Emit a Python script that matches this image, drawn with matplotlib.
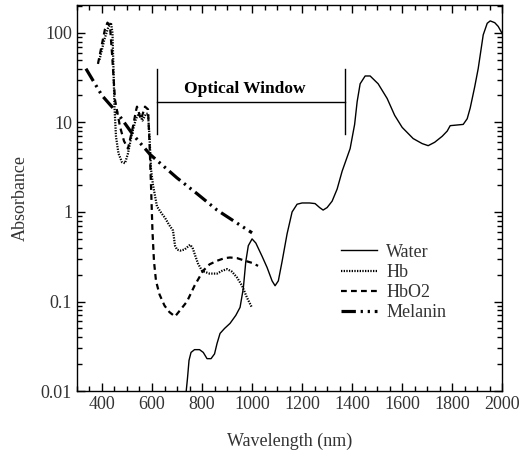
import numpy as np
import matplotlib
matplotlib.use('Agg')
import matplotlib.pyplot as plt

plt.rcParams['font.family'] = ['Liberation Serif', 'DejaVu Serif']

# Water absorbance
water_nm = [736, 742, 748, 756, 770, 790, 805, 820, 836, 850, 860, 872, 890, 912, 935, 952,
            965, 975, 985, 1000, 1015, 1040, 1060, 1080, 1092, 1105, 1120, 1140, 1160, 1180,
            1200, 1230, 1252, 1270, 1284, 1300, 1320, 1340, 1360, 1392, 1410, 1420, 1432, 1452,
            1472, 1504, 1540, 1570, 1600, 1644, 1680, 1704, 1730, 1760, 1780, 1792, 1810, 1844,
            1860, 1872, 1890, 1904, 1924, 1940, 1952, 1970, 1984, 2000]
water_abs = [0.0095, 0.014, 0.022, 0.027, 0.029, 0.029, 0.027, 0.023, 0.023, 0.026, 0.034,
             0.044, 0.05, 0.057, 0.07, 0.086, 0.14, 0.28, 0.42, 0.5, 0.45, 0.32, 0.24, 0.17,
             0.15, 0.17, 0.28, 0.57, 1.0, 1.22, 1.26, 1.26, 1.24, 1.12, 1.05, 1.12, 1.32, 1.8,
             2.85, 5.1, 9.5, 17, 27, 33, 33, 27, 18.5, 12, 8.8, 6.6, 5.8, 5.5, 6.0, 7.0, 8.0,
             9.2, 9.3, 9.5, 11, 14.5, 25, 40, 95, 128, 136, 130, 118, 98]

# Hb (deoxy)
hb_nm = [390, 410, 425, 436, 442, 446, 450, 456, 466, 480, 492, 504, 520, 536, 548, 562,
         576, 584, 590, 596, 604, 620, 640, 652, 668, 684, 692, 700, 712, 730, 752, 762,
         772, 784, 800, 830, 860, 880, 900, 920, 940, 960, 980, 1000]
hb_abs = [50, 85, 115, 130, 100, 40, 15, 7, 4.5, 3.6, 3.5, 4.5, 7.5, 11, 12.6, 10.5,
          12.5, 12.5, 7, 3, 2.0, 1.15, 0.95, 0.86, 0.72, 0.62, 0.42, 0.38, 0.37, 0.38, 0.43,
          0.4, 0.33, 0.265, 0.22, 0.205, 0.205, 0.22, 0.23, 0.215, 0.185, 0.15, 0.11, 0.085]

# HbO2 (oxy)
hbo2_nm = [384, 400, 412, 422, 432, 440, 452, 472, 488, 504, 524, 536, 540, 556, 572, 584,
           590, 596, 602, 608, 616, 630, 650, 670, 692, 720, 740, 770, 804, 830, 860, 890,
           912, 940, 972, 1000, 1024]
hbo2_abs = [45, 75, 110, 130, 120, 60, 18, 9, 6.2, 5.1, 9, 13.5, 15, 10.8, 15, 14,
            6, 2, 0.6, 0.28, 0.17, 0.12, 0.09, 0.076, 0.068, 0.085, 0.1, 0.15, 0.22, 0.26,
            0.285, 0.305, 0.31, 0.305, 0.285, 0.27, 0.25]

# Melanin
mel_nm = [336, 400, 464, 524, 592, 700, 780, 860, 940, 1000]
mel_abs = [39.8, 20, 12.5, 7.3, 4.4, 2.4, 1.6, 1.05, 0.75, 0.585]

# Optical window
win_left, win_right = 620, 1370
win_low, win_high, win_bar = 7.4, 39, 17

fig = plt.figure(figsize=(5.27, 4.5), dpi=100)
ax = fig.add_axes([0.146, 0.131, 0.807, 0.858])

ax.plot(water_nm, water_abs, color='black', lw=1.0, label='Water')
ax.plot(hb_nm, hb_abs, color='black', lw=1.6, linestyle=(0, (0.6, 0.6)), label='Hb')
ax.plot(hbo2_nm, hbo2_abs, color='black', lw=1.6, linestyle=(0, (2.6, 1.9)), label='HbO2')
ax.plot(mel_nm, mel_abs, color='black', lw=2.3,
        linestyle=(0, (4.5, 1.5, 0.7, 1.5, 0.7, 1.5)), label='Melanin')

ax.plot([win_left, win_left], [win_low, win_high], color='black', lw=1.0)
ax.plot([win_right, win_right], [win_low, win_high], color='black', lw=1.0)
ax.plot([win_left, win_right], [win_bar, win_bar], color='black', lw=1.0)
ax.text((win_left + win_right) / 2 - 25, win_bar * 1.14, 'Optical Window', ha='center',
        va='bottom', fontsize=12.5, fontweight='semibold')

ax.set_yscale('log')
ax.set_xlim(300, 2000)
ax.set_ylim(0.01, 205)
ax.set_xticks(range(400, 2001, 200))
ax.set_xticks(range(300, 2001, 50), minor=True)
ax.set_yticks([0.01, 0.1, 1, 10, 100])
ax.set_yticklabels(['0.01', '0.1', '1', '10', '100'])
ax.tick_params(which='both', direction='in', top=True, right=True, labelsize=13,
               width=1.0, labelcolor='#333333')
ax.tick_params(which='major', length=6)
ax.tick_params(which='minor', length=3.5)
for s in ax.spines.values():
    s.set_linewidth(1.0)

ax.set_xlabel('Wavelength (nm)', fontsize=13, labelpad=14, color='#333333')
ax.set_ylabel('Absorbance', fontsize=13, labelpad=9, color='#333333')

ax.legend(loc='upper left', bbox_to_anchor=(0.6, 0.405), frameon=False, fontsize=13,
          handlelength=2.0, handletextpad=0.5, labelspacing=0.18, borderpad=0,
          labelcolor='#333333')

fig.savefig('out.png', dpi=100)
